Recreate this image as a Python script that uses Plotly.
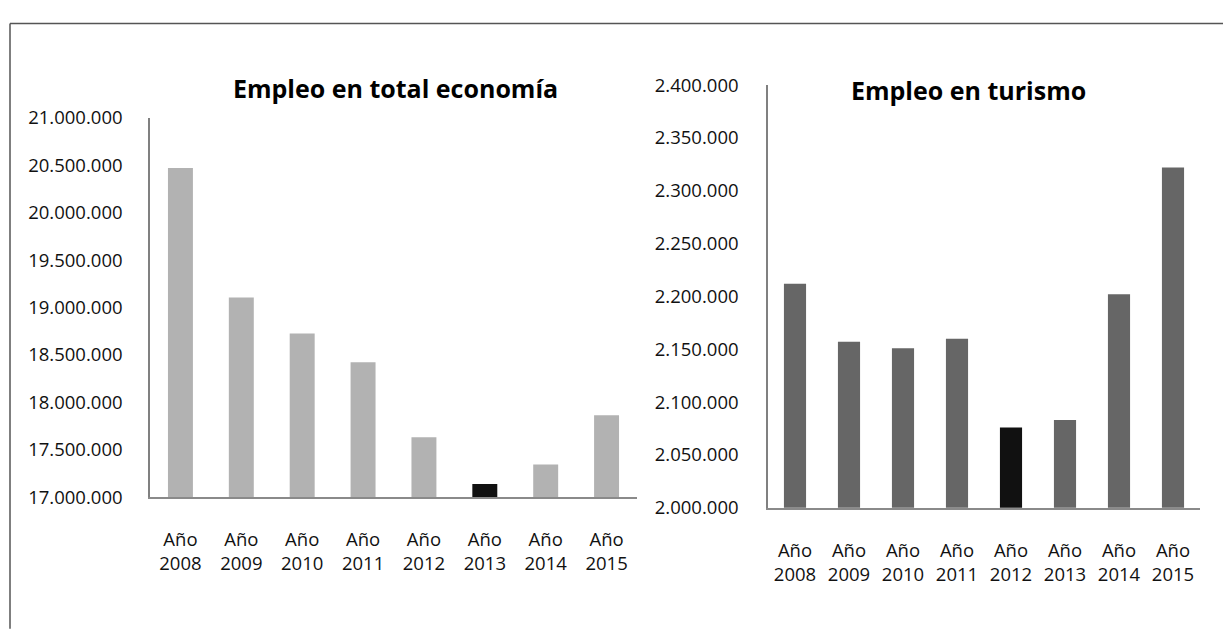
import plotly.graph_objects as go

categories = ["Año<br>2008", "Año<br>2009", "Año<br>2010", "Año<br>2011",
              "Año<br>2012", "Año<br>2013", "Año<br>2014", "Año<br>2015"]
empleo_total = [20470000, 19106000, 18725000, 18421000, 17631000, 17139000, 17344000, 17864000]
empleo_turismo = [2212000, 2157000, 2151000, 2160000, 2076000, 2083000, 2202000, 2322000]
title_total = "Empleo en total economía"
title_turismo = "Empleo en turismo"
highlight_total = "Año<br>2013"
highlight_turismo = "Año<br>2012"

W, H = 1223, 634
FONT = "Open Sans"

colors_total = ["#111111" if c == highlight_total else "#b2b2b2" for c in categories]
colors_turismo = ["#111111" if c == highlight_turismo else "#666666" for c in categories]

fig = go.Figure()
fig.add_trace(go.Bar(x=categories, y=empleo_total, marker=dict(color=colors_total, line=dict(width=0)),
                     xaxis="x", yaxis="y", showlegend=False))
fig.add_trace(go.Bar(x=categories, y=empleo_turismo, marker=dict(color=colors_turismo, line=dict(width=0)),
                     xaxis="x2", yaxis="y2", showlegend=False))

def px(v):
    return v / W

def py(v):
    return 1 - v / H

tickfont = dict(family=FONT, size=18.5, color="#111111")

fig.update_layout(
    width=W, height=H,
    margin=dict(l=0, r=0, t=0, b=0),
    paper_bgcolor="white", plot_bgcolor="white",
    separators=",.",
    bargap=0.59,
    font=dict(family=FONT),
    xaxis=dict(domain=[px(150), px(637)], anchor="y", showline=True, linecolor="#8a8a8a", linewidth=2,
               showgrid=False, ticks="", tickfont=tickfont, ticklabelstandoff=25, zeroline=False),
    yaxis=dict(domain=[py(503), py(108)], anchor="x", range=[17000000, 21000000], dtick=500000,
               tickformat=",.0f", showline=True, linecolor="#808080", linewidth=1.5, showgrid=False,
               ticks="", tickfont=tickfont, ticklabelstandoff=22, zeroline=False),
    xaxis2=dict(domain=[px(768), px(1200)], anchor="y2", showline=True, linecolor="#8a8a8a", linewidth=2,
                showgrid=False, ticks="", tickfont=tickfont, ticklabelstandoff=25, zeroline=False),
    yaxis2=dict(domain=[py(514), py(74)], anchor="x2", range=[2000000, 2400000], dtick=50000,
                tickformat=",.0f", showline=True, linecolor="#808080", linewidth=1.5, showgrid=False,
                ticks="", tickfont=tickfont, ticklabelstandoff=24, zeroline=False),
    annotations=[
        dict(text=title_total, x=px(395), y=py(77), xref="paper", yref="paper", showarrow=False,
             xanchor="center", yanchor="middle",
             font=dict(family=FONT, size=25, color="#000000", weight="bold")),
        dict(text=title_turismo, x=px(968), y=py(79), xref="paper", yref="paper", showarrow=False,
             xanchor="center", yanchor="middle",
             font=dict(family=FONT, size=25, color="#000000", weight="bold")),
    ],
    shapes=[
        dict(type="line", xref="paper", yref="paper", x0=px(10), x1=px(10), y0=py(10), y1=py(640),
             line=dict(color="#555555", width=1.5)),
        dict(type="line", xref="paper", yref="paper", x0=px(10), x1=px(1230), y0=py(10), y1=py(10),
             line=dict(color="#555555", width=1.5)),
    ],
)

fig.write_html("out.html", config={"displayModeBar": False},
               post_script="document.body.style.margin='0';document.body.style.overflow='hidden';")
